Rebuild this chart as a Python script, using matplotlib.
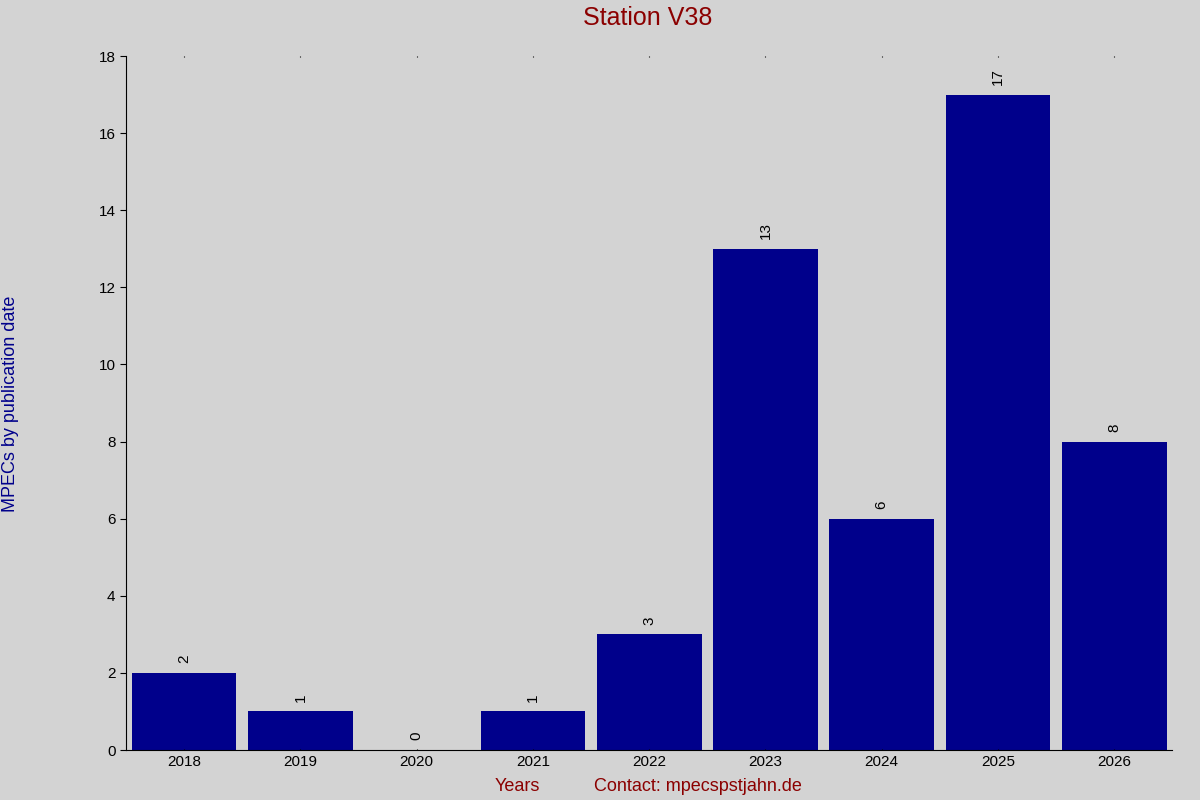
import matplotlib
matplotlib.use('Agg')
import matplotlib.pyplot as plt

years = ['2018', '2019', '2020', '2021', '2022', '2023', '2024', '2025', '2026']
counts = [2, 1, 0, 1, 3, 13, 6, 17, 8]

plt.rcParams['font.family'] = ['Liberation Sans', 'DejaVu Sans']
bg = '#d3d3d3'

fig = plt.figure(figsize=(12, 8), dpi=100, facecolor=bg)
ax = fig.add_axes([0.105, 0.0625, 0.872, 0.8675], facecolor=bg)

x = list(range(len(years)))
ax.bar(x, counts, width=0.9, color='#00008b')
for i, c in zip(x, counts):
    ax.text(i, c + 0.25, str(c), rotation=90, ha='center', va='bottom', fontsize=11, color='black')

ax.set_xlim(-0.5, len(years) - 0.5)
ax.set_ylim(0, 18)
ax.set_yticks(range(0, 19, 2))
ax.set_xticks(x)
ax.set_xticklabels(years)
ax.tick_params(axis='both', labelsize=11, colors='black', length=4)
ax.tick_params(axis='x', top=True, direction='in', length=1)
for s in ['top', 'right']:
    ax.spines[s].set_visible(False)

fig.text(0.54, 0.977, 'Station V38', ha='center', va='center', fontsize=18, color='#8b0000')
fig.text(0.009, 0.495, 'MPECs by publication date', rotation=90, ha='center', va='center',
         fontsize=13, color='#00008b')
fig.text(0.431, 0.017, 'Years', ha='center', va='center', fontsize=13, color='#8b0000')
fig.text(0.582, 0.017, 'Contact: mpecspstjahn.de', ha='center', va='center', fontsize=13, color='#8b0000')

fig.savefig('out.png', dpi=100, facecolor=bg)
